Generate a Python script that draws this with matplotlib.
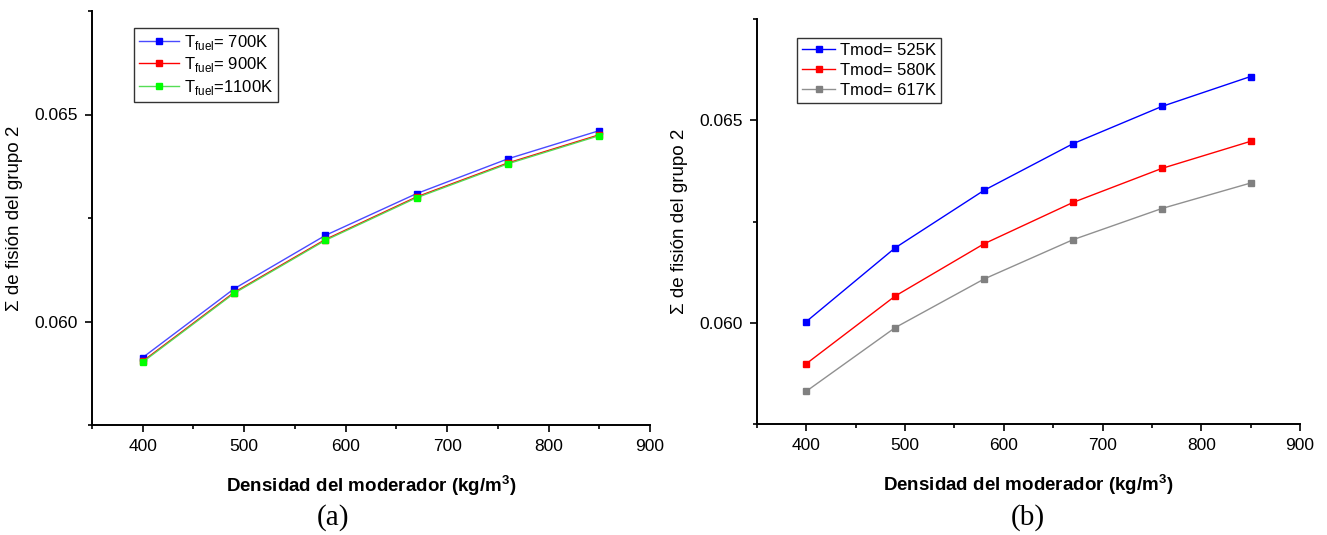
import numpy as np
import matplotlib.pyplot as plt
from matplotlib.ticker import MultipleLocator, FormatStrFormatter

plt.rcParams['font.family'] = ['Liberation Sans', 'DejaVu Sans']
plt.rcParams['mathtext.fontset'] = 'custom'
plt.rcParams['mathtext.rm'] = 'Liberation Sans'

# density of the moderator (kg/m3)
densidad = [400, 490, 580, 670, 760, 850]

# panel (a): fuel temperature
fuel_labels = [r'T$_{\mathregular{fuel}}$= 700K', r'T$_{\mathregular{fuel}}$= 900K',
               r'T$_{\mathregular{fuel}}$=1100K']
fuel_700 = [0.05913, 0.06079, 0.06208, 0.06309, 0.06393, 0.06461]
fuel_900 = [0.05904, 0.06070, 0.06198, 0.06301, 0.06383, 0.06451]
fuel_1100 = [0.05902, 0.06068, 0.06196, 0.06299, 0.06381, 0.06449]

# panel (b): moderator temperature
mod_labels = ['Tmod= 525K', 'Tmod= 580K', 'Tmod= 617K']
mod_525 = [0.06003, 0.06185, 0.06327, 0.06442, 0.06534, 0.06608]
mod_580 = [0.05899, 0.06066, 0.06195, 0.06297, 0.06381, 0.06448]
mod_617 = [0.05831, 0.05988, 0.06108, 0.06205, 0.06282, 0.06345]

W, H = 1327, 535
fig = plt.figure(figsize=(W / 100, H / 100), dpi=100)


def make_axes(x0, x1, y0, y1):
    ax = fig.add_axes([x0 / W, 1 - y1 / H, (x1 - x0) / W, (y1 - y0) / H])
    for s in ['top', 'right']:
        ax.spines[s].set_visible(False)
    for s in ['left', 'bottom']:
        ax.spines[s].set_linewidth(1.4)
    ax.set_xlim(350, 900)
    ax.set_ylim(0.0575, 0.0675)
    ax.xaxis.set_major_locator(MultipleLocator(100))
    ax.xaxis.set_minor_locator(MultipleLocator(50))
    ax.yaxis.set_major_locator(MultipleLocator(0.005))
    ax.yaxis.set_minor_locator(MultipleLocator(0.0025))
    ax.yaxis.set_major_formatter(FormatStrFormatter('%.3f'))
    ax.tick_params(which='major', direction='out', length=5, width=1.2, labelsize=12.5, pad=5)
    ax.tick_params(which='minor', direction='out', length=3, width=1.2)
    ax.set_xlabel(r'Densidad del moderador (kg/m$^{\mathregular{3}}$)', fontsize=13.5,
                  fontweight='bold', labelpad=14)
    ax.set_ylabel('\u03a3 de fisi\u00f3n del grupo 2', fontsize=13.5, labelpad=8)
    return ax


ax1 = make_axes(92, 650, 11, 425)
ax1.plot(densidad, fuel_700, color='#4a4aff', lw=1, marker='s', ms=5, mfc='#0000ff', mec='#0000ff', label=fuel_labels[0])
ax1.plot(densidad, fuel_900, color='#ff0000', lw=1, marker='s', ms=5, mfc='#ff0000', mec='#ff0000', label=fuel_labels[1])
ax1.plot(densidad, fuel_1100, color='#55dd55', lw=1, marker='s', ms=5, mfc='#00ff00', mec='#00ff00', label=fuel_labels[2])
leg1 = ax1.legend(loc='upper left', bbox_to_anchor=(42 / 558, 1 - 17 / 414), fontsize=12,
                  frameon=True, fancybox=False, edgecolor='black', handlelength=2.4,
                  borderpad=0.3, labelspacing=0.2, handletextpad=0.3, borderaxespad=0)
leg1.get_frame().set_linewidth(1)
fig.text(333 / W, 1 - 518 / H, '(a)', fontsize=21,
         family='Liberation Serif', ha='center', va='center')

ax2 = make_axes(757, 1300, 19, 424)
ax2.plot(densidad, mod_525, color='#0000ff', lw=1, marker='s', ms=5, mfc='#0000ff', mec='#0000ff', label=mod_labels[0])
ax2.plot(densidad, mod_580, color='#ff0000', lw=1, marker='s', ms=5, mfc='#ff0000', mec='#ff0000', label=mod_labels[1])
ax2.plot(densidad, mod_617, color='#909090', lw=1, marker='s', ms=5, mfc='#808080', mec='#808080', label=mod_labels[2])
leg2 = ax2.legend(loc='upper left', bbox_to_anchor=(40 / 543, 1 - 19 / 405), fontsize=12,
                  frameon=True, fancybox=False, edgecolor='black', handlelength=2.0,
                  borderpad=0.3, labelspacing=0.3, handletextpad=0.3, borderaxespad=0)
leg2.get_frame().set_linewidth(1)
fig.text(1028 / W, 1 - 518 / H, '(b)', fontsize=21,
         family='Liberation Serif', ha='center', va='center')

plt.savefig('out.png', dpi=100)
